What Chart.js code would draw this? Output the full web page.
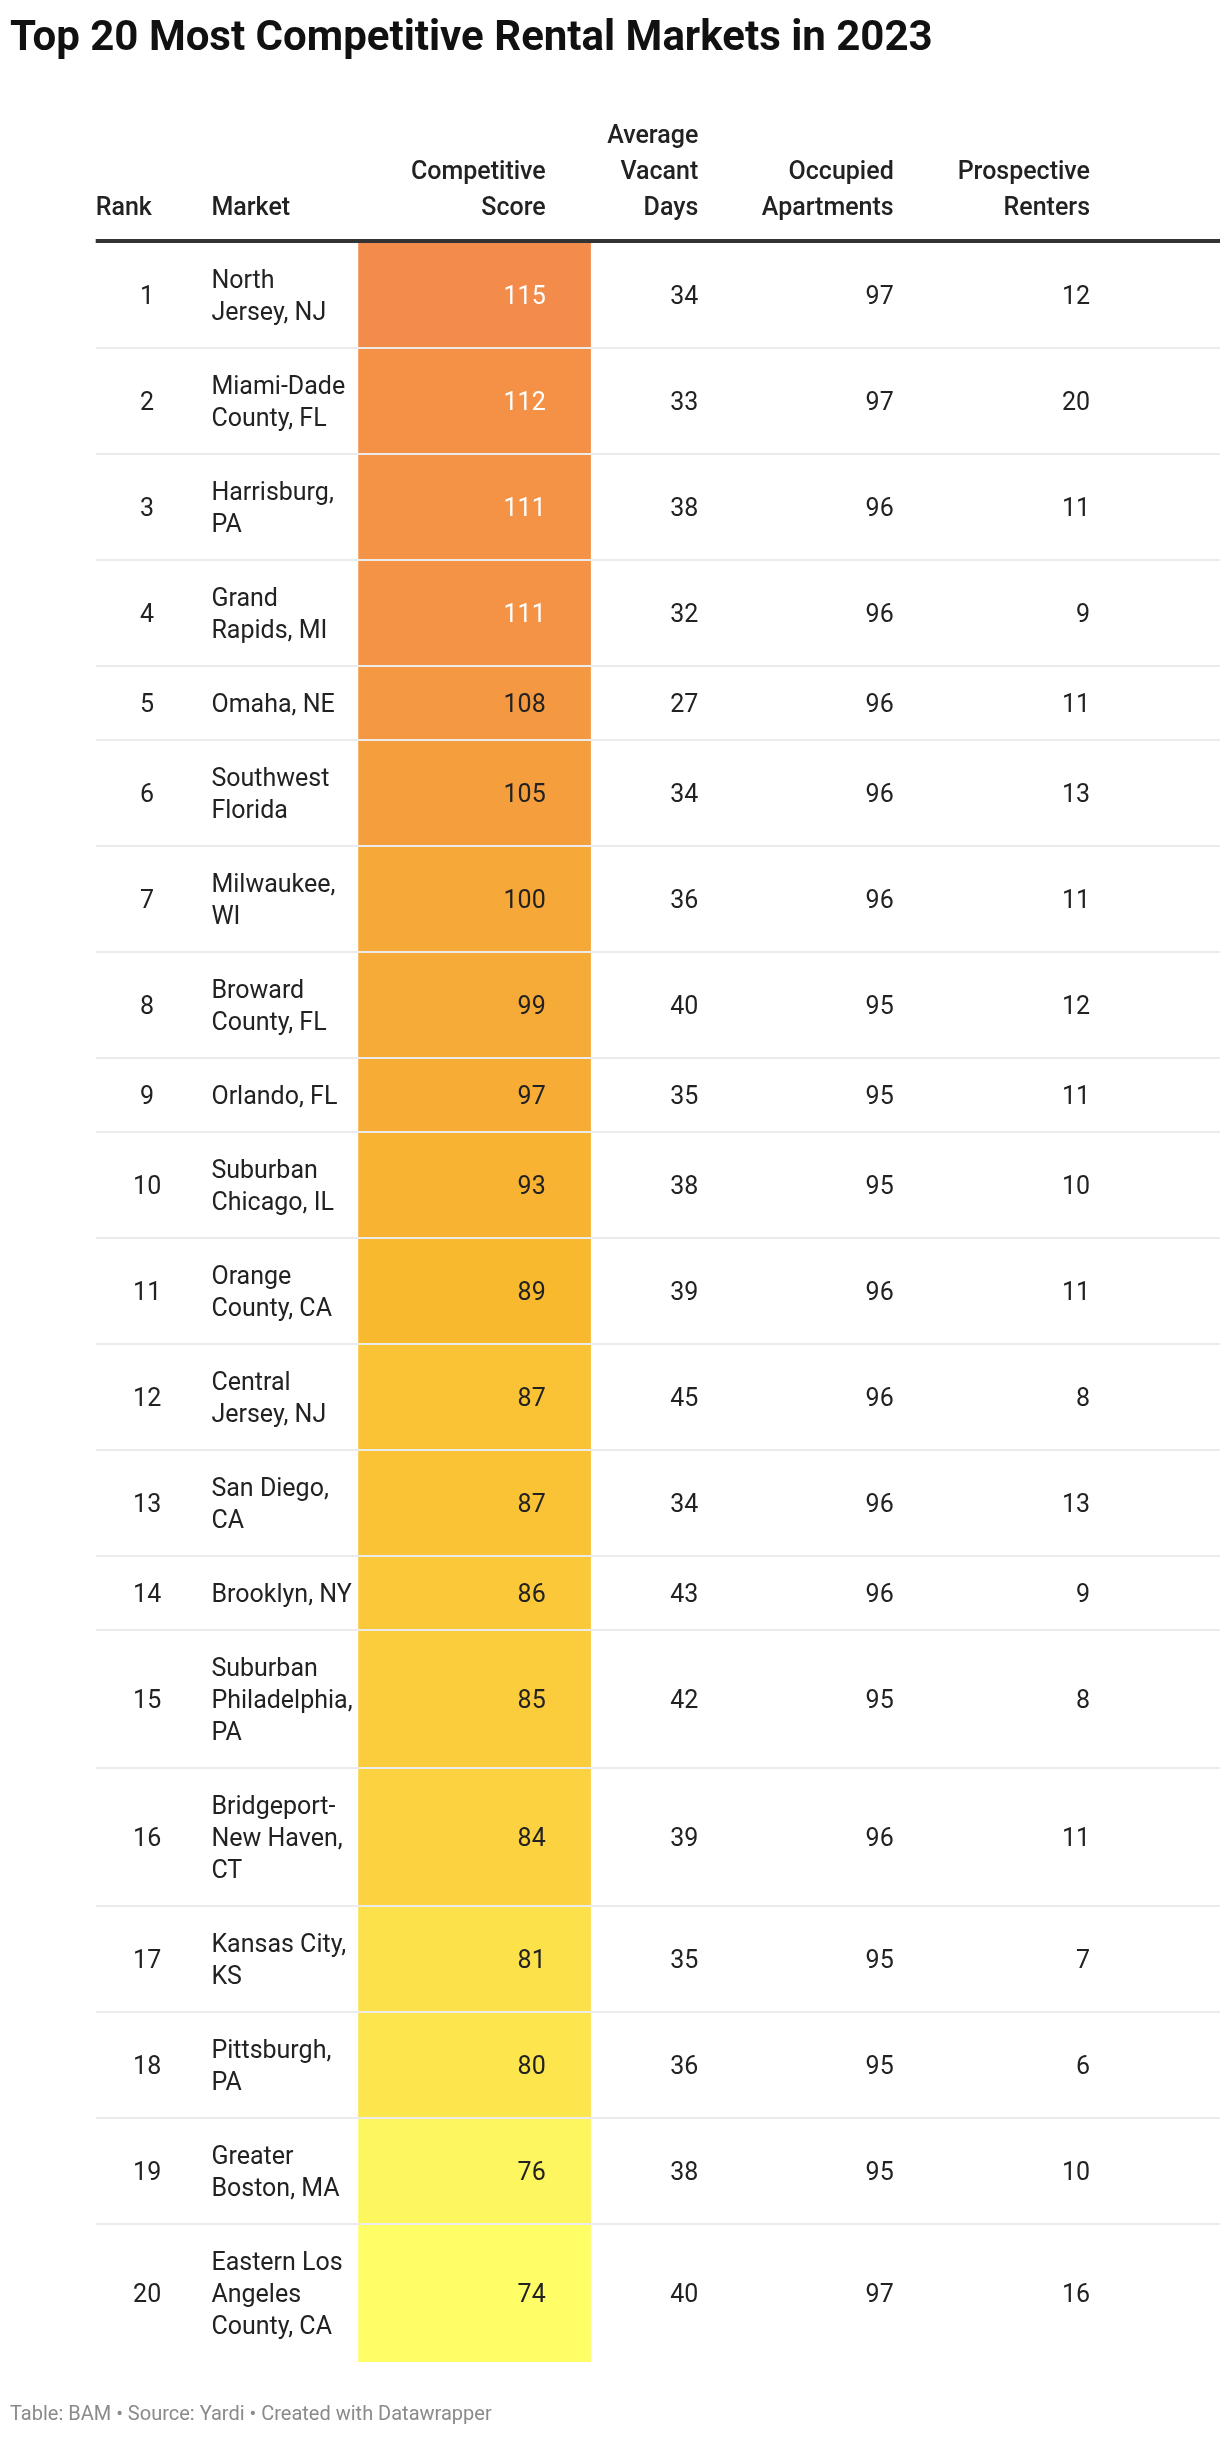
<!DOCTYPE html>
<html><head><meta charset="utf-8">
<script src="https://cdn.jsdelivr.net/npm/chart.js@4/dist/chart.umd.min.js"></script>
<style>html,body{margin:0;padding:0;background:#fff}#wrap{position:relative;width:1220px;height:2438px}</style>
</head><body><div id="wrap"><canvas id="c" width="1220" height="2438"></canvas></div>
<script>
const ranks = [1,2,3,4,5,6,7,8,9,10,11,12,13,14,15,16,17,18,19,20];
const markets = [
 ["North","Jersey, NJ"],["Miami-Dade","County, FL"],["Harrisburg,","PA"],["Grand","Rapids, MI"],
 ["Omaha, NE"],["Southwest","Florida"],["Milwaukee,","WI"],["Broward","County, FL"],["Orlando, FL"],
 ["Suburban","Chicago, IL"],["Orange","County, CA"],["Central","Jersey, NJ"],["San Diego,","CA"],
 ["Brooklyn, NY"],["Suburban","Philadelphia,","PA"],["Bridgeport-","New Haven,","CT"],["Kansas City,","KS"],
 ["Pittsburgh,","PA"],["Greater","Boston, MA"],["Eastern Los","Angeles","County, CA"]];
const scores = [115,112,111,111,108,105,100,99,97,93,89,87,87,86,85,84,81,80,76,74];
const vacantDays = [34,33,38,32,27,34,36,40,35,38,39,45,34,43,42,39,35,36,38,40];
const occupied = [97,97,96,96,96,96,96,95,95,95,96,96,96,96,95,96,95,95,95,97];
const renters = [12,20,11,9,11,13,11,12,11,10,11,8,13,9,8,11,7,6,10,16];
const headers = [["Rank"],["Market"],["Competitive","Score"],["Average","Vacant","Days"],["Occupied","Apartments"],["Prospective","Renters"]];
const title = "Top 20 Most Competitive Rental Markets in 2023";
const footer = "Table: BAM • Source: Yardi • Created with Datawrapper";

const PAD = 42, LINE = 32;
const tops = [], bottoms = [];
let acc = 0;
markets.forEach(m => { tops.push(acc); acc += PAD + LINE*m.length; bottoms.push(acc); });
const total = acc;

function scoreColor(v){
  const stops=[[74,[255,254,102]],[81,[253,225,74]],[89,[249,185,46]],[100,[246,168,56]],[115,[243,139,75]]];
  for(let i=0;i<stops.length-1;i++){
    const [a,ca]=stops[i],[b,cb]=stops[i+1];
    if(v>=a&&v<=b){const t=(v-a)/(b-a);return `rgb(${ca.map((c,k)=>Math.round(c+(cb[k]-c)*t)).join(',')})`;}
  }
  return 'rgb(243,139,75)';
}
const COL = {rankH:10, rank:70, market:145, scoreL:336, scoreR:568, scoreText:535, vac:713, occ:941, pro:1170};

const tablePlugin = {
  id:'table',
  afterDatasetsDraw(chart){
    const ctx = chart.ctx, y = chart.scales.y, x = chart.scales.x;
    ctx.save();
    ctx.fillStyle='#111'; ctx.font='bold 42px Roboto'; ctx.textAlign='left'; ctx.textBaseline='alphabetic';
    ctx.fillText(title, 10, 50);
    ctx.font='500 25px Roboto'; ctx.fillStyle='#222';
    const hx=[[COL.rankH,'left'],[COL.market,'left'],[COL.scoreText,'right'],[COL.vac,'right'],[COL.occ,'right'],[COL.pro,'right']];
    headers.forEach((h,i)=>{ctx.textAlign=hx[i][1];h.forEach((t,j)=>ctx.fillText(t,x.getPixelForValue(hx[i][0]),215-(h.length-1-j)*36));});
    ctx.fillStyle='#ebebeb';
    bottoms.slice(0,-1).forEach(b=>ctx.fillRect(x.getPixelForValue(10),y.getPixelForValue(b)-1,1205,2));
    ctx.fillStyle='#333'; ctx.fillRect(x.getPixelForValue(10),239,1205,4);
    ctx.font='25px Roboto';
    ranks.forEach((r,i)=>{
      const mid = y.getPixelForValue((tops[i]+bottoms[i])/2);
      const base = mid+9;
      ctx.fillStyle='#222'; ctx.textAlign='center'; ctx.fillText(String(r), x.getPixelForValue(COL.rank), base);
      ctx.textAlign='left';
      const n=markets[i].length;
      markets[i].forEach((t,j)=>ctx.fillText(t,x.getPixelForValue(COL.market),base+(j-(n-1)/2)*LINE));
      ctx.textAlign='right';
      ctx.fillStyle = scores[i]>=111?'#fff':'#222';
      ctx.fillText(String(scores[i]),x.getPixelForValue(COL.scoreText),base);
      ctx.fillStyle='#222';
      ctx.fillText(String(vacantDays[i]),x.getPixelForValue(COL.vac),base);
      ctx.fillText(String(occupied[i]),x.getPixelForValue(COL.occ),base);
      ctx.fillText(String(renters[i]),x.getPixelForValue(COL.pro),base);
    });
    ctx.font='20px Roboto'; ctx.fillStyle='#8a8a8a'; ctx.textAlign='left';
    ctx.fillText(footer,10,2420);
    ctx.restore();
  }
};

new Chart(document.getElementById('c'),{
  type:'bar',
  data:{datasets:[{
    data: scores.map((s,i)=>({x:(COL.scoreL+COL.scoreR)/2, y:[tops[i],bottoms[i]]})),
    backgroundColor: scores.map(scoreColor),
    barThickness: COL.scoreR-COL.scoreL,
    borderWidth:0, grouped:false
  }]},
  options:{
    responsive:false, animation:false, devicePixelRatio:1,
    layout:{padding:{top:242,bottom:76,left:0,right:0}},
    plugins:{legend:{display:false},tooltip:{enabled:false}},
    scales:{
      x:{type:'linear',min:0,max:1220,display:false},
      y:{type:'linear',min:0,max:total,reverse:true,display:false}
    }
  },
  plugins:[tablePlugin]
});
</script>
</body></html>
